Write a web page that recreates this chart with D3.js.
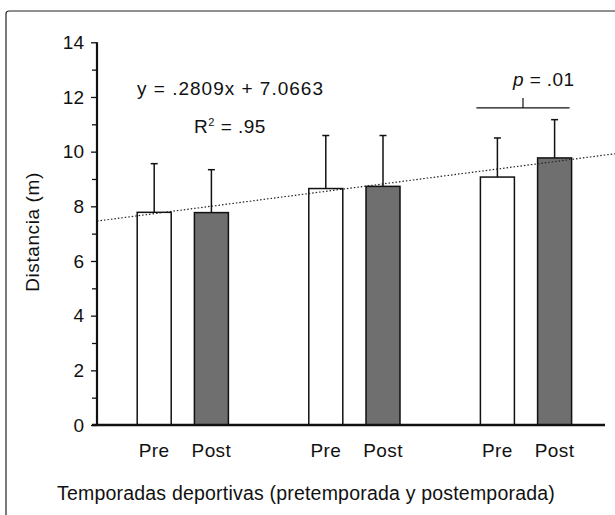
<!DOCTYPE html>
<html>
<head>
<meta charset="utf-8">
<script src="https://cdn.jsdelivr.net/npm/d3@7"></script>
<style>
  html, body { margin: 0; padding: 0; background: #fff; }
  svg { display: block; }
  text { font-family: "Liberation Sans", Arial, Helvetica, sans-serif; fill: #111; }
</style>
</head>
<body>
<div id="chart"></div>
<script>
// ---- data ----
const categories = ["Pre", "Post", "Pre", "Post", "Pre", "Post"];
const positions  = [1, 2, 4, 5, 7, 8];          // category slots (gaps between seasons)
const phases     = ["pre", "post", "pre", "post", "pre", "post"];
const means      = [7.78, 7.77, 8.65, 8.73, 9.07, 9.77];
const errorTops  = [9.56, 9.34, 10.59, 10.59, 10.50, 11.17];
const yTicks     = [0, 2, 4, 6, 8, 10, 12, 14];
const yMinor     = [1, 3, 5, 7, 9, 11, 13];
const trendIntercept = 7.46;   // value at slot 0
const trendSlope     = 0.272;  // per slot
const equationText = "y = .2809x + 7.0663";
const r2Value = ".95";
const sigLabel = ".01";
const sigPair = [7, 8];
const sigLevel = 11.6;
const yTitle = "Distancia (m)";
const xTitle = "Temporadas deportivas (pretemporada y postemporada)";

// ---- layout ----
const W = 615, H = 515;
const FS = 19;
const svg = d3.select("#chart").append("svg").attr("width", W).attr("height", H);

const x = d3.scaleLinear().domain([0, 1]).range([97, 97 + 57.2]);
const y = d3.scaleLinear().domain([0, 14]).range([425, 42.3]);
const barW = 34;

// frame
svg.append("rect").attr("x", 6).attr("y", 11).attr("width", 700).attr("height", 600)
  .attr("rx", 3).attr("fill", "none").attr("stroke", "#222").attr("stroke-width", 1.2);

// bars
svg.selectAll("rect.bar").data(means).enter().append("rect")
  .attr("class", "bar")
  .attr("x", (d, i) => x(positions[i]) - barW / 2)
  .attr("y", d => y(d))
  .attr("width", barW)
  .attr("height", d => y(0) - y(d))
  .attr("fill", (d, i) => phases[i] === "post" ? "#6f6f6f" : "#fff")
  .attr("stroke", "#111").attr("stroke-width", 1.5);

// error bars
const eg = svg.append("g").attr("stroke", "#111").attr("stroke-width", 1.5);
means.forEach((m, i) => {
  const cx = x(positions[i]);
  eg.append("line").attr("x1", cx).attr("x2", cx).attr("y1", y(m)).attr("y2", y(errorTops[i]));
  eg.append("line").attr("x1", cx - 3.5).attr("x2", cx + 3.5).attr("y1", y(errorTops[i])).attr("y2", y(errorTops[i]));
});

// trend line (dotted)
const xEnd = x.invert(615);
svg.append("line")
  .attr("x1", x(0)).attr("y1", y(trendIntercept))
  .attr("x2", x(xEnd)).attr("y2", y(trendIntercept + trendSlope * xEnd))
  .attr("stroke", "#222").attr("stroke-width", 1.2).attr("stroke-dasharray", "1.5,2");

// y axis
const yAxis = d3.axisLeft(y).tickValues(yTicks).tickSize(6).tickPadding(7).tickFormat(d3.format("d"));
const ya = svg.append("g").attr("transform", "translate(97,0)").call(yAxis);
ya.select(".domain").remove();
ya.selectAll(".tick line").attr("stroke", "#111").attr("stroke-width", 1.3);
ya.selectAll(".tick text").style("font-size", FS + "px").style("font-family", "Liberation Sans, Arial, sans-serif").attr("fill", "#111");
const yMinorAxis = d3.axisLeft(y).tickValues(yMinor).tickSize(5).tickFormat("");
const ym = svg.append("g").attr("transform", "translate(97,0)").call(yMinorAxis);
ym.select(".domain").remove();
ym.selectAll(".tick line").attr("stroke", "#111").attr("stroke-width", 1.3);
svg.append("line").attr("x1", 97).attr("x2", 97).attr("y1", y(14)).attr("y2", y(0) + 1)
  .attr("stroke", "#111").attr("stroke-width", 2.2);

// x axis line
svg.append("line").attr("x1", 92).attr("x2", 605).attr("y1", y(0)).attr("y2", y(0))
  .attr("stroke", "#111").attr("stroke-width", 2.4);

// category labels
svg.selectAll("text.cat").data(categories).enter().append("text")
  .attr("class", "cat")
  .attr("x", (d, i) => x(positions[i]))
  .attr("y", 457)
  .attr("text-anchor", "middle")
  .style("font-size", FS + "px")
  .style("letter-spacing", "0.4px")
  .text(d => d);

// axis titles
svg.append("text").attr("transform", "translate(39,232) rotate(-90)")
  .attr("text-anchor", "middle").style("font-size", FS + "px").style("letter-spacing", "0.6px").text(yTitle);
svg.append("text").attr("x", 306).attr("y", 500).attr("text-anchor", "middle")
  .style("font-size", "19.5px").style("letter-spacing", "0.2px").text(xTitle);

// equation
svg.append("text").attr("x", 137).attr("y", 95).attr("text-anchor", "start")
  .style("font-size", FS + "px").style("letter-spacing", "1px").text(equationText);
const r2 = svg.append("text").attr("x", 194).attr("y", 133).attr("text-anchor", "start")
  .style("font-size", FS + "px").style("letter-spacing", "0.5px");
r2.append("tspan").text("R");
r2.append("tspan").attr("dy", -7).style("font-size", "11px").text("2");
r2.append("tspan").attr("dy", 7).text(" = " + r2Value);

// significance bracket
const sx1 = x(sigPair[0]) - barW / 2 - 4, sx2 = x(sigPair[1]) + barW / 2 - 2;
const sy = y(sigLevel);
const sg = svg.append("g").attr("stroke", "#111").attr("stroke-width", 1.2);
sg.append("line").attr("x1", sx1).attr("x2", sx2).attr("y1", sy).attr("y2", sy);
sg.append("line").attr("x1", (sx1 + sx2) / 2).attr("x2", (sx1 + sx2) / 2).attr("y1", sy).attr("y2", sy - 10);
const pt = svg.append("text").attr("x", 513).attr("y", 86).attr("text-anchor", "start")
  .style("font-size", FS + "px").style("letter-spacing", "0.4px");
pt.append("tspan").style("font-style", "italic").text("p");
pt.append("tspan").text(" = " + sigLabel);
</script>
</body>
</html>
